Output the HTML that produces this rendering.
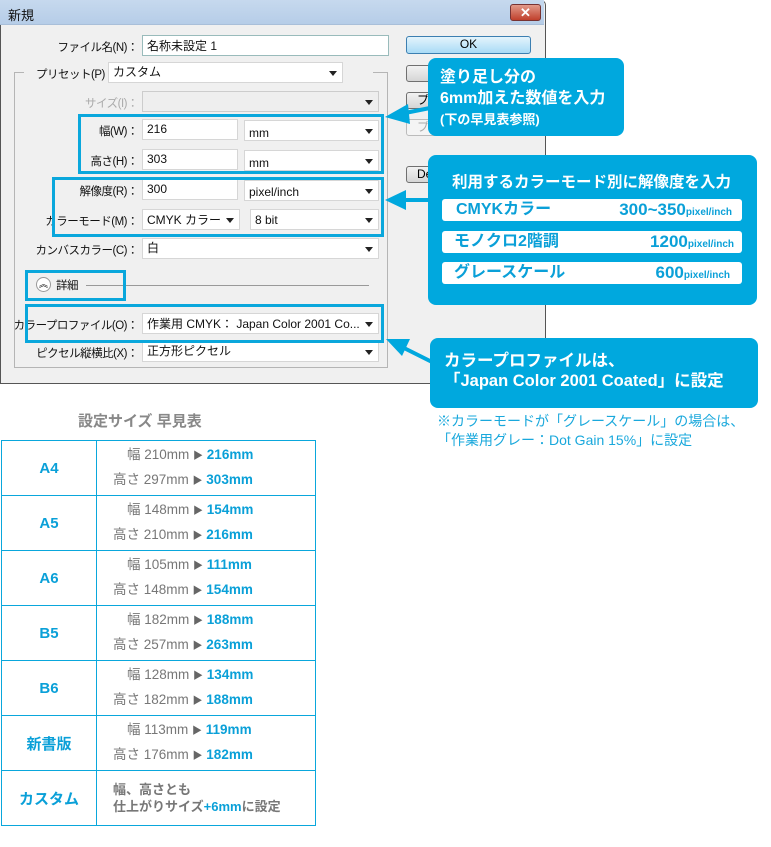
<!DOCTYPE html>
<html><head><meta charset="utf-8"><style>
*{box-sizing:border-box;margin:0;padding:0}
body{width:771px;height:847px;background:#fff;position:relative;overflow:hidden;font-family:"Liberation Sans","Noto Sans CJK JP",sans-serif}
.a{position:absolute}
.dlg{left:0;top:0;width:546px;height:384px;background:#f0f0f0;border:1px solid #555;border-radius:5px 5px 0 0}
.tb{left:0;top:0;width:544px;height:25px;background:linear-gradient(#c6d9ee,#b6cde8);border-bottom:1px solid #a9bfd9}
.lbl{font-size:11.5px;color:#111;text-align:right;white-space:nowrap;letter-spacing:-0.5px}
.in{background:#fff;border:1px solid #d6d6d6;font-size:12px;color:#111;padding:1px 4px;height:21px;line-height:16px;white-space:nowrap;overflow:hidden}
.sel:after{content:"";position:absolute;right:5px;top:8px;border-left:4px solid transparent;border-right:4px solid transparent;border-top:5px solid #222}
.btn{border:1px solid #707070;border-radius:3px;background:linear-gradient(#f2f2f2,#d5d5d5);font-size:12px;padding-left:10px;line-height:15px;overflow:hidden}
.bx{border:3px solid #0aa7dc}
.co{background:#00a8de;border-radius:8px;color:#fff;font-weight:bold}
.row{background:#fff;border-radius:3px;color:#0aa0d8;font-weight:bold;font-size:16px;height:22px;line-height:22px}
table{border-collapse:collapse;position:absolute;left:1px;top:440px}
td{border:1.5px solid #0aa7dc;height:55px}
td.k{width:95px;text-align:center;color:#0aa0d8;font-weight:bold;font-size:15px}
td.v{width:219px;font-size:13.5px;color:#777;line-height:23px}
.v b{color:#0aa0d8;font-weight:bold}
.v i{font-style:normal;font-size:10px;color:#666}
</style></head><body>
<div class="a dlg"></div>
<div class="a tb"></div>
<div class="a" style="left:8px;top:5px;font-size:13px;color:#111">新規</div>
<div class="a" style="left:510px;top:4px;width:31px;height:17px;border-radius:3px;background:linear-gradient(#e29a8a,#c0402c);border:1px solid #733;color:#fff;font-size:13px;text-align:center;line-height:15px;font-weight:bold">✕</div>

<div class="a lbl" style="right:633px;top:39px">ファイル名(N)：</div>
<div class="a in" style="left:142px;top:35px;width:247px;border-color:#9bb;padding-top:2px">名称未設定 1</div>
<div class="a" style="left:14px;top:72px;width:374px;height:296px;border:1px solid #b5b5b5"></div>
<div class="a" style="left:24px;top:64px;width:84px;height:16px;background:#f0f0f0"></div>
<div class="a" style="left:343px;top:64px;width:30px;height:16px;background:#f0f0f0"></div>
<div class="a lbl" style="left:36px;top:66px">プリセット(P)：</div>
<div class="a in sel" style="left:108px;top:62px;width:235px">カスタム</div>
<div class="a lbl" style="right:633px;top:95px;color:#aaa">サイズ(I)：</div>
<div class="a in sel" style="left:142px;top:91px;width:237px;background:#eee;border-color:#ccc"></div>
<div class="a lbl" style="right:633px;top:123px">幅(W)：</div>
<div class="a in" style="left:142px;top:119px;width:96px">216</div>
<div class="a in sel" style="left:244px;top:120px;width:135px;padding-top:4px">mm</div>
<div class="a lbl" style="right:633px;top:153px">高さ(H)：</div>
<div class="a in" style="left:142px;top:149px;width:96px">303</div>
<div class="a in sel" style="left:244px;top:150px;width:135px;padding-top:4px">mm</div>
<div class="a lbl" style="right:633px;top:183px">解像度(R)：</div>
<div class="a in" style="left:142px;top:179px;width:96px">300</div>
<div class="a in sel" style="left:244px;top:180px;width:135px;padding-top:3px">pixel/inch</div>
<div class="a lbl" style="right:633px;top:213px">カラーモード(M)：</div>
<div class="a in sel" style="left:142px;top:209px;width:98px;padding-top:2px">CMYK カラー</div>
<div class="a in sel" style="left:250px;top:209px;width:129px;padding-top:2px">8 bit</div>
<div class="a lbl" style="right:633px;top:242px">カンバスカラー(C)：</div>
<div class="a in sel" style="left:142px;top:238px;width:237px">白</div>
<div class="a" style="left:36px;top:277px;width:15px;height:15px;border-radius:50%;border:1px solid #999;background:#fff;font-size:9px;text-align:center;line-height:13px">︽</div>
<div class="a lbl" style="left:56px;top:277px">詳細</div>
<div class="a" style="left:86px;top:285px;width:283px;height:1px;background:#999"></div>
<div class="a lbl" style="right:633px;top:317px">カラープロファイル(O)：</div>
<div class="a in sel" style="left:142px;top:313px;width:237px;padding-top:2px">作業用 CMYK： Japan Color 2001 Co...</div>
<div class="a lbl" style="right:633px;top:345px">ピクセル縦横比(X)：</div>
<div class="a in sel" style="left:142px;top:341px;width:237px">正方形ピクセル</div>

<div class="a btn" style="left:406px;top:36px;width:125px;height:18px;background:linear-gradient(#e4f4fc,#a9dbf6);border-color:#3c7fb1;text-align:center;padding:0">OK</div>
<div class="a btn" style="left:406px;top:65px;width:125px;height:17px"></div>
<div class="a btn" style="left:406px;top:92px;width:125px;height:17px">プリ</div>
<div class="a btn" style="left:406px;top:119px;width:125px;height:17px;color:#aaa;background:#f4f4f4;border-color:#bbb">プリ</div>
<div class="a btn" style="left:406px;top:166px;width:125px;height:17px">De</div>

<div class="a bx" style="left:78px;top:114px;width:306px;height:60px"></div>
<div class="a bx" style="left:52px;top:177px;width:332px;height:60px"></div>
<div class="a bx" style="left:25px;top:270px;width:101px;height:31px"></div>
<div class="a bx" style="left:25px;top:304px;width:359px;height:39px"></div>

<svg class="a" style="left:0;top:0" width="771" height="420">
<g fill="#00a8de" stroke="#00a8de">
<line x1="430" y1="108" x2="395" y2="115" stroke-width="4"/><polygon points="385,117 408,104 410,124" stroke="none"/>
<line x1="430" y1="200" x2="395" y2="200" stroke-width="4"/><polygon points="385,200 406,190 406,210" stroke="none"/>
<line x1="432" y1="362" x2="396" y2="344" stroke-width="4"/><polygon points="386,339 410,339 402,356" stroke="none"/>
</g></svg>

<div class="a co" style="left:428px;top:58px;width:196px;height:78px;padding:9px 0 0 12px;font-size:16px;line-height:21px;white-space:nowrap">塗り足し分の<br>6mm加えた数値を入力<br><span style="font-size:13px">(下の早見表参照)</span></div>
<div class="a co" style="left:428px;top:155px;width:329px;height:150px"></div>
<div class="a" style="left:452px;top:170px;color:#fff;font-weight:bold;font-size:15.5px;white-space:nowrap">利用するカラーモード別に解像度を入力</div>
<div class="a row" style="left:442px;top:199px;width:300px"><span style="position:absolute;left:14px">CMYKカラー</span><span style="position:absolute;right:10px;font-size:17px">300~350<span style="font-size:10px">pixel/inch</span></span></div>
<div class="a row" style="left:442px;top:231px;width:300px"><span style="position:absolute;left:12px">モノクロ2階調</span><span style="position:absolute;right:8px;font-size:17px">1200<span style="font-size:10px">pixel/inch</span></span></div>
<div class="a row" style="left:442px;top:262px;width:300px"><span style="position:absolute;left:12px">グレースケール</span><span style="position:absolute;right:12px;font-size:17px">600<span style="font-size:10px">pixel/inch</span></span></div>
<div class="a co" style="left:430px;top:338px;width:328px;height:70px;padding:13px 0 0 14px;font-size:16.5px;line-height:20px;white-space:nowrap">カラープロファイルは、<br>「Japan Color 2001 Coated」に設定</div>
<div class="a" style="left:437px;top:412px;color:#19a8dc;font-size:14px;line-height:19px;white-space:nowrap">※カラーモードが「グレースケール」の場合は、<br>「作業用グレー：Dot Gain 15%」に設定</div>

<div class="a" style="left:78px;top:410px;color:#888;font-size:15px;font-weight:bold">設定サイズ 早見表</div>
<table>
<tr><td class="k">A4</td><td class="v"><div style="padding-left:30px">幅 210mm <i>▶</i> <b>216mm</b></div><div style="padding-left:16px">高さ 297mm <i>▶</i> <b>303mm</b></div></td></tr>
<tr><td class="k">A5</td><td class="v"><div style="padding-left:30px">幅 148mm <i>▶</i> <b>154mm</b></div><div style="padding-left:16px">高さ 210mm <i>▶</i> <b>216mm</b></div></td></tr>
<tr><td class="k">A6</td><td class="v"><div style="padding-left:30px">幅 105mm <i>▶</i> <b>111mm</b></div><div style="padding-left:16px">高さ 148mm <i>▶</i> <b>154mm</b></div></td></tr>
<tr><td class="k">B5</td><td class="v"><div style="padding-left:30px">幅 182mm <i>▶</i> <b>188mm</b></div><div style="padding-left:16px">高さ 257mm <i>▶</i> <b>263mm</b></div></td></tr>
<tr><td class="k">B6</td><td class="v"><div style="padding-left:30px">幅 128mm <i>▶</i> <b>134mm</b></div><div style="padding-left:16px">高さ 182mm <i>▶</i> <b>188mm</b></div></td></tr>
<tr><td class="k">新書版</td><td class="v"><div style="padding-left:30px">幅 113mm <i>▶</i> <b>119mm</b></div><div style="padding-left:16px">高さ 176mm <i>▶</i> <b>182mm</b></div></td></tr>
<tr><td class="k">カスタム</td><td class="v" style="line-height:17px;font-weight:bold;font-size:13px"><div style="padding-left:16px">幅、高さとも<br>仕上がりサイズ<b>+6mm</b>に設定</div></td></tr>
</table>
</body></html>
